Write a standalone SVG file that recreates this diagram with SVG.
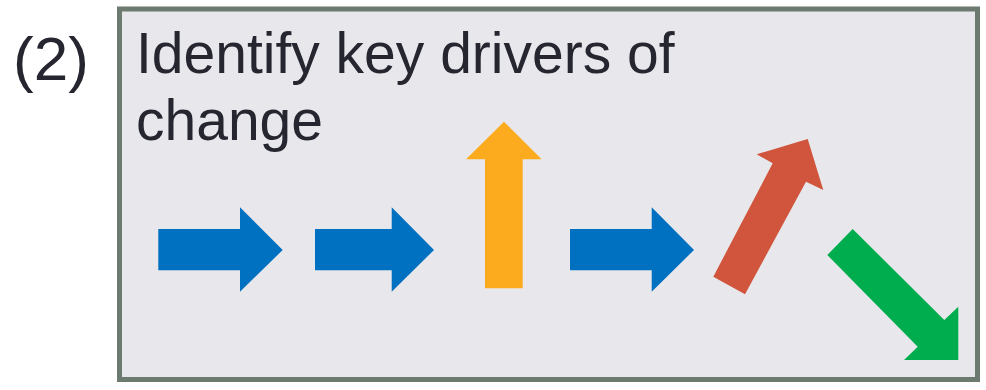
<svg xmlns="http://www.w3.org/2000/svg" width="986" height="390" viewBox="0 0 986 390">
<style>
.t{font-family:"Liberation Sans",Arial,sans-serif;font-size:57px;fill:#262630}
.blue{fill:#0070c0}
</style>
<rect width="986" height="390" fill="#ffffff"/>
<g id="label"><text class="t" x="13" y="80" style="font-size:62px">(2)</text></g>
<g id="panel">
<rect x="119.5" y="9" width="858" height="370.5" fill="#e8e8ec" stroke="#6c7a70" stroke-width="5"/>
<text class="t" x="136" y="73">Identify key drivers of</text>
<text class="t" x="136" y="140">change</text>
</g>
<g id="arrow1"><polygon class="blue" points="158.3,229 240,229 240,207.3 282.7,250 240,291.7 240,270.3 158.3,270.3"/></g>
<g id="arrow2"><polygon class="blue" points="315,229 391.7,229 391.7,207.3 434,250 391.7,291.7 391.7,270.3 315,270.3"/></g>
<g id="arrow3"><polygon fill="#fcab1e" points="504,121.7 541.7,159.3 522.7,159.3 522.7,288.3 485,288.3 485,159.3 466,159.3"/></g>
<g id="arrow4"><polygon class="blue" points="570,229 651.7,229 651.7,207.3 694,250 651.7,291.7 651.7,270.3 570,270.3"/></g>
<g id="arrow5"><polygon fill="#d0553c" points="713.3,276.7 772.7,163.3 756.7,154.3 807.7,139 823.3,190 806,181.7 745,294.3"/></g>
<g id="arrow6"><polygon fill="#00ad4e" points="852.7,229 944.3,320 958.3,306.7 958.3,360 904,360 917.7,346.7 827.3,255"/></g>
</svg>
